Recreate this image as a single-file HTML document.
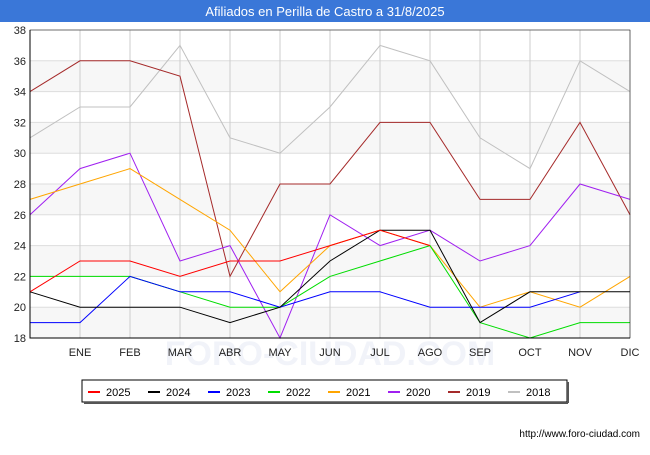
<!DOCTYPE html>
<html><head><meta charset="utf-8"><style>
body{margin:0;width:650px;height:450px;background:#fff;font-family:"Liberation Sans",sans-serif;overflow:hidden}
</style></head><body>
<svg id="c" width="650" height="450" xmlns="http://www.w3.org/2000/svg"></svg>
<script>
const months=["","ENE","FEB","MAR","ABR","MAY","JUN","JUL","AGO","SEP","OCT","NOV","DIC"];
const yTicks=[18,20,22,24,26,28,30,32,34,36,38];
const years=["2025","2024","2023","2022","2021","2020","2019","2018"];
const colors=["#ff0000","#000000","#0000ff","#00dd00","#ffa500","#a020f0","#a52a2a","#c0c0c0"];
const s2025=[21,23,23,22,23,23,24,25,24];
const s2024=[21,20,20,20,19,20,23,25,25,19,21,21,21];
const s2023=[19,19,22,21,21,20,21,21,20,20,20,21];
const s2022=[22,22,22,21,20,20,22,23,24,19,18,19,19];
const s2021=[27,28,29,27,25,21,24,25,24,20,21,20,22];
const s2020=[26,29,30,23,24,18,26,24,25,23,24,28,27];
const s2019=[34,36,36,35,22,28,28,32,32,27,27,32,26];
const s2018=[31,33,33,37,31,30,33,37,36,31,29,36,34];
const series=[s2025,s2024,s2023,s2022,s2021,s2020,s2019,s2018];
const svg=document.getElementById('c');const NS="http://www.w3.org/2000/svg";
const L=30,R=630,T=30,B=338;
const X=i=>L+i*(R-L)/12, Y=v=>B-(v-18)*(B-T)/20;
function el(t,a,p){const e=document.createElementNS(NS,t);for(const k in a)e.setAttribute(k,a[k]);(p||svg).appendChild(e);return e;}
const title=el('rect',{x:0,y:0,width:650,height:22,fill:'#3a77d8'});


const tt=el('text',{x:325,y:16,'text-anchor':'middle',fill:'#fff','font-size':13});tt.textContent="Afiliados en Perilla de Castro a 31/8/2025";


const wm=el('text',{x:330,y:365,'text-anchor':'middle','font-size':34,fill:'#f1f3f9','font-weight':'bold'});wm.textContent="FORO-CIUDAD.COM";
for(let i=0;i<yTicks.length-1;i+=2){el('rect',{x:L,y:Y(yTicks[i+1]),width:R-L,height:Y(yTicks[i])-Y(yTicks[i+1]),fill:'#f7f7f7'});}
yTicks.forEach(v=>{el('line',{x1:L,x2:R,y1:Y(v),y2:Y(v),stroke:'#ddd'});
const t=el('text',{x:L-4,y:Y(v)+4,'text-anchor':'end','font-size':11,fill:'#222'});t.textContent=v;

});
months.forEach((m,i)=>{if(i>0)el('line',{x1:X(i),x2:X(i),y1:T,y2:B,stroke:'#ccc'});
const t=el('text',{x:X(i),y:356,'text-anchor':'middle','font-size':11,fill:'#222'});t.textContent=m;

});
for(let k=series.length-1;k>=0;k--){const p=el('polyline',{points:series[k].map((v,i)=>X(i)+','+Y(v)).join(' '),fill:'none',stroke:colors[k],'stroke-width':1});

}
el('polyline',{points:`${L},${T} ${L},${B} ${R},${B}`,fill:'none',stroke:'#000'});
el('rect',{x:L,y:T,width:R-L,height:B-T,fill:'none',stroke:'#000','stroke-width':0.5});
const lg=el('rect',{x:82,y:380,width:485,height:22,fill:'#fff',stroke:'#000'});
el('line',{x1:84,y1:403,x2:568,y2:403,stroke:'#555','stroke-width':2});el('line',{x1:568,y1:382,x2:568,y2:403,stroke:'#555','stroke-width':2});


years.forEach((y,k)=>{const x=88+k*60;el('line',{x1:x,x2:x+12,y1:392,y2:392,stroke:colors[k],'stroke-width':2});
const t=el('text',{x:x+18,y:396,'font-size':11,fill:'#000'});t.textContent=y;

});
const u=el('text',{x:640,y:437,'text-anchor':'end','font-size':10,fill:'#000'});u.textContent="http://www.foro-ciudad.com";


</script>
</body></html>
